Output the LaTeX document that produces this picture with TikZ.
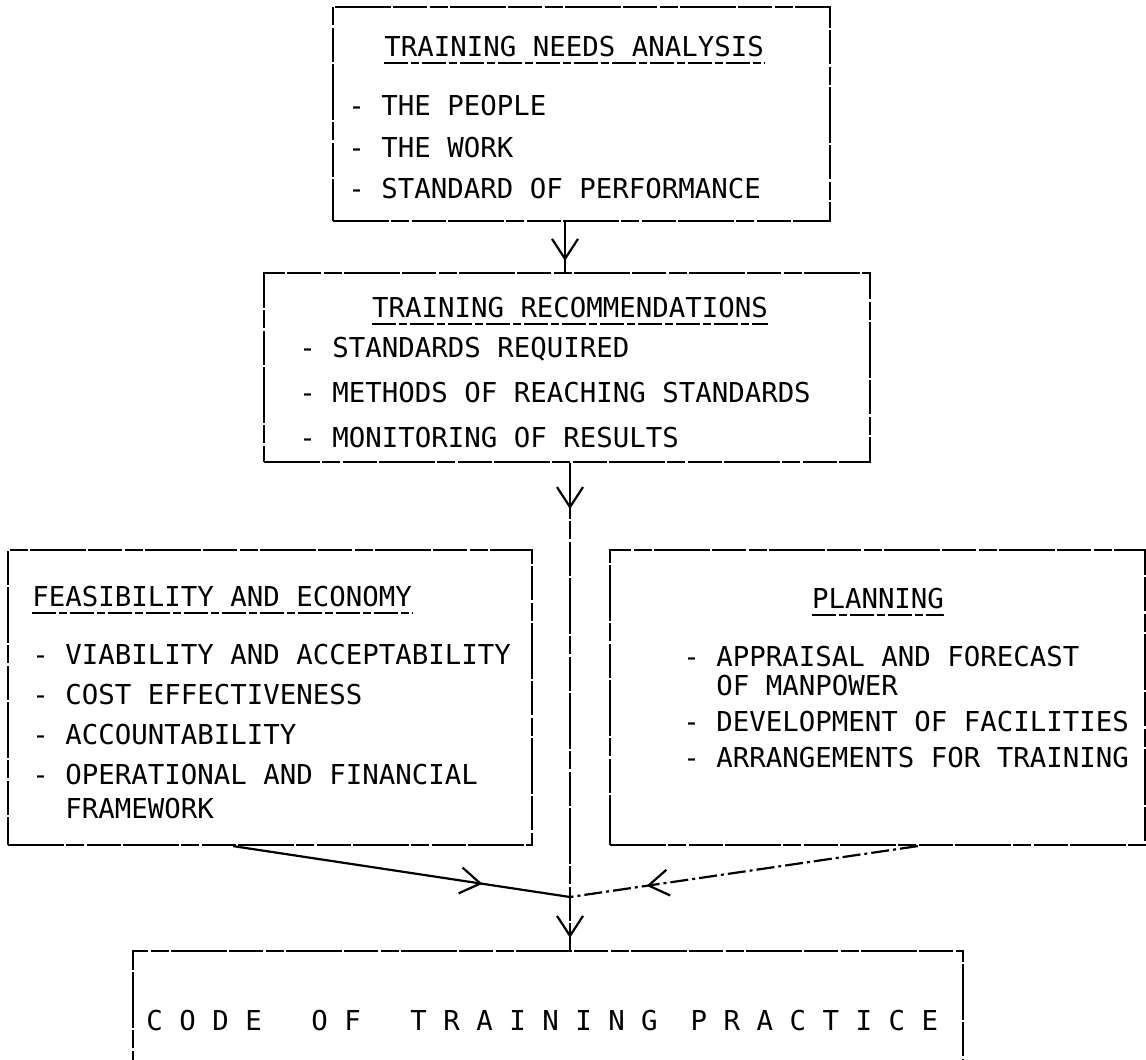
\documentclass[tikz,border=0pt]{standalone}
\usepackage{fontspec}
\newfontfamily\typewriter{DejaVu Sans Mono}
\usetikzlibrary{arrows.meta,decorations.markings,fit,calc}

\begin{document}
\begin{tikzpicture}[x=0.5pt,y=-0.5pt,
  rule/.style={line width=1.1pt, dash pattern=on 28pt off 1pt on 9pt off 1.5pt on 17pt off 1pt},
  box/.style={rule, draw, inner sep=0pt, rectangle},
  txt/.style={anchor=base west, inner sep=0pt, font=\typewriter\fontsize{13.7}{16}\selectfont},
  ctxt/.style={txt, anchor=base},
  uline/.style={line width=0.8pt, dash pattern=on 12pt off 1.5pt on 4pt off 1.5pt},
  barb/.tip={Straight Barb[length=10pt,width=13pt,line width=1.1pt]},
  tipat/.style={postaction={decorate}, decoration={markings, mark=at position #1 with {\arrow{barb}}}},
]
\useasboundingbox (0,0) rectangle (1146,1060);

% box outlines
\node[box, fit={(333,7) (830,221)}] (b1) {};
\node[box, fit={(264,273) (870,462)}] (b2) {};
\node[box, fit={(8,550) (532,845)}] (b3) {};
\node[box, fit={(610,550) (1145,845)}] (b4) {};
\node[box, fit={(133,951) (963,1110)}] (b5) {};

% training needs analysis
\node[txt] (t1) at (384,56) {TRAINING NEEDS ANALYSIS};
\draw[uline] ([yshift=-3.5pt]t1.base west) -- ([yshift=-3.5pt]t1.base east);
\node[txt] (t1a) at (348,115) {- THE PEOPLE};
\node[txt] (t1b) at (348,157) {- THE WORK};
\node[txt] (t1c) at (348,198) {- STANDARD OF PERFORMANCE};

% training recommendations
\node[ctxt] (t2) at (570,317) {TRAINING RECOMMENDATIONS};
\draw[uline] ([yshift=-3.5pt]t2.base west) -- ([yshift=-3.5pt]t2.base east);
\node[txt] (t2a) at (299,357) {- STANDARDS REQUIRED};
\node[txt] (t2b) at (299,402) {- METHODS OF REACHING STANDARDS};
\node[txt] (t2c) at (299,447) {- MONITORING OF RESULTS};

% feasibility and economy
\node[txt] (t3) at (32,606) {FEASIBILITY AND ECONOMY};
\draw[uline] ([yshift=-3.5pt]t3.base west) -- ([yshift=-3.5pt]t3.base east);
\node[txt] (t3a) at (32,664) {- VIABILITY AND ACCEPTABILITY};
\node[txt] (t3b) at (32,704) {- COST EFFECTIVENESS};
\node[txt] (t3c) at (32,744) {- ACCOUNTABILITY};
\node[txt] (t3d) at (32,784) {- OPERATIONAL AND FINANCIAL};
\node[txt] (t3e) at (65,818) {FRAMEWORK};

% planning
\node[ctxt] (t4) at (878,608) {PLANNING};
\draw[uline] ([yshift=-3.5pt]t4.base west) -- ([yshift=-3.5pt]t4.base east);
\node[txt] (t4a) at (683,666) {- APPRAISAL AND FORECAST};
\node[txt] (t4b) at (716,695) {OF MANPOWER};
\node[txt] (t4c) at (683,731) {- DEVELOPMENT OF FACILITIES};
\node[txt] (t4d) at (683,767) {- ARRANGEMENTS FOR TRAINING};

% code of training practice
\node[txt] (t5) at (146,1030) {C~O~D~E~~~O~F~~~T~R~A~I~N~I~N~G~~P~R~A~C~T~I~C~E};

% connectors
\coordinate (j) at (570,897);
\draw[rule, tipat=-5.5pt] (565,0 |- b1.south) -- (565,0 |- b2.north);
\draw[rule, postaction={decorate}, decoration={markings,
      mark=at position 23pt with {\arrow{barb}},
      mark=at position -6pt with {\arrow{barb}}}]
  (570,0 |- b2.south) -- (570,0 |- b5.north);
\draw[line width=1.1pt, tipat=0.74] ($(b3.south west)!0.43!(b3.south east)$) -- (j);
\draw[line width=1.1pt, dash pattern=on 9pt off 2pt on 1.5pt off 2pt, tipat=0.78]
  ($(b4.south west)!0.575!(b4.south east)$) -- (j);
\end{tikzpicture}
\end{document}
